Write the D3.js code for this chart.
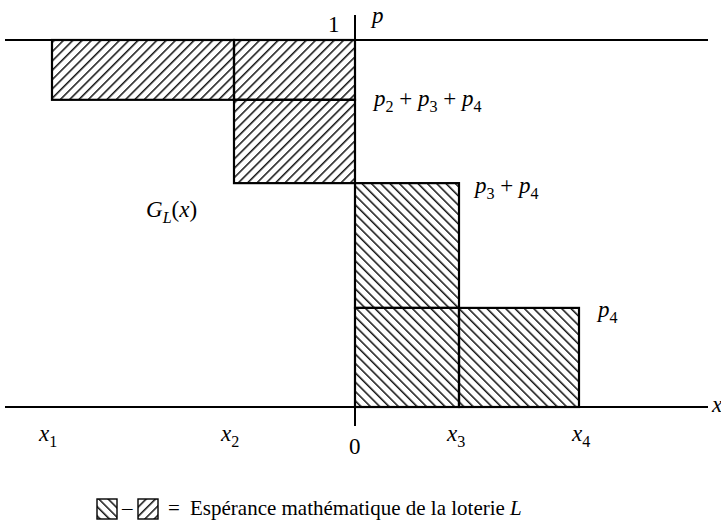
<!DOCTYPE html>
<html><head><meta charset="utf-8">
<script src="https://cdn.jsdelivr.net/npm/d3@7"></script>
<style>body{margin:0;background:#fff}svg{display:block}</style>
</head><body>
<script>
// Outcomes (x positions on the axis, arbitrary units) and decumulative levels
const outcomeNames = ["x1", "x2", "x3", "x4"];
const outcomeValues = [-3.03, -1.21, 1.04, 2.24];
// G_L(x) levels: 1, p2+p3+p4, p3+p4, p4, 0
const levelNames = ["1", "p2+p3+p4", "p3+p4", "p4", "0"];
const levelValues = [1, 0.837, 0.610, 0.270, 0];
const xDomain = [-3.5, 3.53];
const legendText = "Espérance mathématique de la loterie ";

const W = 721, H = 520;
const FONT = '"Liberation Serif"';
const svg = d3.select("body").append("svg").attr("width", W).attr("height", H);
const x = d3.scaleLinear().domain(xDomain).range([5, 708]);
const y = d3.scaleLinear().domain([0, 1]).range([407, 40]);

const defs = svg.append("defs");
function hatch(id, angle) {
  const s = 6.6;
  const p = defs.append("pattern").attr("id", id).attr("patternUnits", "userSpaceOnUse")
    .attr("width", s).attr("height", s).attr("patternTransform", `rotate(${angle})`);
  p.append("line").attr("x1", 0.8).attr("y1", 0).attr("x2", 0.8).attr("y2", s)
    .attr("stroke", "#000").attr("stroke-width", 1.4);
}
hatch("neg", 45);   // "/" hatching
hatch("pos", -45);  // "\" hatching

// Rectangles (layers) built from the data
const [X1, X2, X3, X4] = outcomeValues;
const [L1, L234, L34, L4, L0] = levelValues;
const rects = [
  {a: X1, b: X2, top: L1, bot: L234, f: "neg"},
  {a: X2, b: 0, top: L1, bot: L234, f: "neg"},
  {a: X2, b: 0, top: L234, bot: L34, f: "neg"},
  {a: 0, b: X3, top: L34, bot: L4, f: "pos"},
  {a: 0, b: X3, top: L4, bot: L0, f: "pos"},
  {a: X3, b: X4, top: L4, bot: L0, f: "pos"}
];
svg.append("g").selectAll("rect").data(rects).join("rect")
  .attr("x", d => x(d.a)).attr("y", d => y(d.top))
  .attr("width", d => x(d.b) - x(d.a)).attr("height", d => y(d.bot) - y(d.top))
  .attr("fill", d => `url(#${d.f})`).attr("stroke", "#000").attr("stroke-width", 2.2);

// Lines: p = 1 and x axis, p axis
const g = svg.append("g").attr("stroke", "#000").attr("stroke-width", 2);
g.append("line").attr("x1", x(xDomain[0])).attr("x2", x(xDomain[1])).attr("y1", y(1)).attr("y2", y(1));
g.append("line").attr("x1", x(xDomain[0])).attr("x2", x(xDomain[1])).attr("y1", y(0)).attr("y2", y(0));
g.append("line").attr("x1", x(0)).attr("x2", x(0)).attr("y1", 15).attr("y2", y(0) + 19);

const fs = 23;
function txt(px, py, size) {
  return svg.append("text").attr("x", px).attr("y", py).attr("font-size", size || fs)
    .style("font-family", FONT).attr("fill", "#000");
}
// axis names
txt(x(0) + 17, 23).attr("font-style", "italic").text("p");
txt(712, y(0) + 5).attr("font-style", "italic").text("x");
txt(x(0) - 27, 32).text(levelNames[0]);
txt(x(0) - 6, y(0) + 47).text(levelNames[4]);

// x tick labels
const xLabelDx = [-13, -13, -12, -7];
[X1, X2, X3, X4].forEach((v, i) => {
  const t = txt(x(v) + xLabelDx[i], y(0) + 34);
  t.append("tspan").attr("font-style", "italic").text("x");
  t.append("tspan").attr("font-size", fs * 0.7).attr("dy", 6).text(outcomeNames[i].slice(1));
});

// level labels
function sumLabel(px, py, idx) {
  const t = txt(px, py);
  idx.forEach((k, j) => {
    if (j) t.append("tspan").attr("dy", -6).text(" + ");
    t.append("tspan").attr("font-style", "italic").text("p");
    t.append("tspan").attr("font-size", fs * 0.7).attr("dy", 6).text(String(k));
  });
}
sumLabel(x(0) + 19, y(L234) + 6, [2, 3, 4]);
sumLabel(x(X3) + 16, y(L34) + 10, [3, 4]);
sumLabel(x(X4) + 19, y(L4) + 9, [4]);

// G_L(x)
const gl = txt(146, 217);
gl.append("tspan").attr("font-style", "italic").text("G");
gl.append("tspan").attr("font-style", "italic").attr("font-size", fs * 0.7).attr("dy", 6).text("L");
gl.append("tspan").attr("dy", -6).text("(");
gl.append("tspan").attr("font-style", "italic").text("x");
gl.append("tspan").text(")");

// Legend
const ly = 499, ls = 20;
svg.append("rect").attr("x", 97).attr("y", ly).attr("width", ls).attr("height", ls)
  .attr("fill", "url(#pos)").attr("stroke", "#000").attr("stroke-width", 1.4);
txt(122, ly + 16, 21).text("–");
svg.append("rect").attr("x", 138).attr("y", ly).attr("width", ls).attr("height", ls)
  .attr("fill", "url(#neg)").attr("stroke", "#000").attr("stroke-width", 1.4);
txt(168, ly + 16, 21).text("=");
const lt = txt(190, ly + 16, 21);
lt.append("tspan").text(legendText);
lt.append("tspan").attr("font-style", "italic").text("L");
</script>
</body></html>
